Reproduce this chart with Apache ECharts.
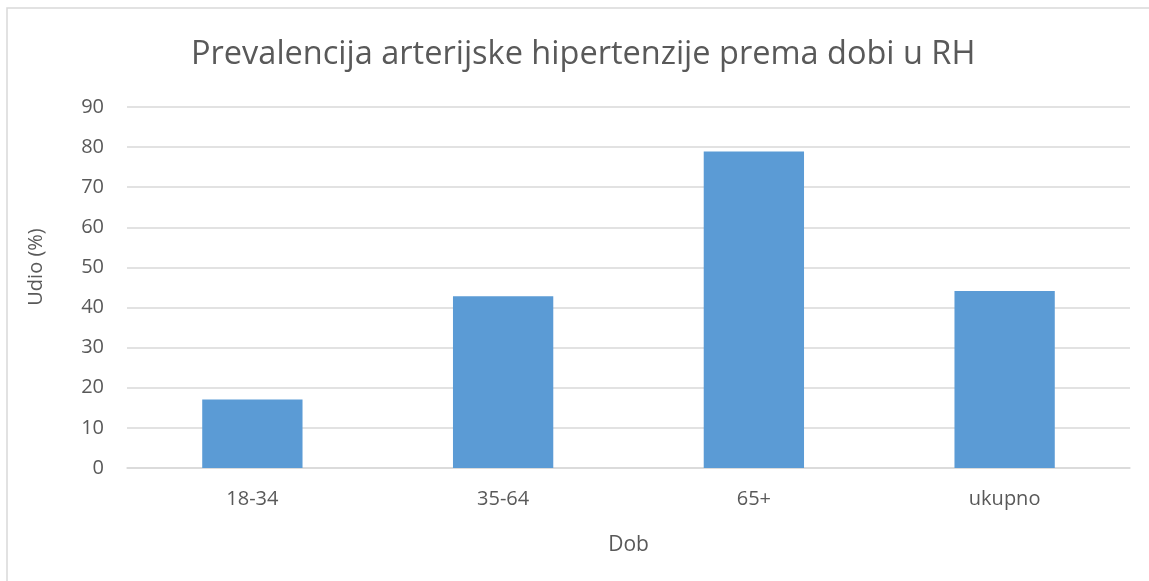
<!DOCTYPE html>
<html>
<head>
<meta charset="utf-8">
<script src="https://cdn.jsdelivr.net/npm/echarts@6/dist/echarts.min.js"></script>
<style>
html,body{margin:0;padding:0;background:#fff;}
#chart{width:1149px;height:581px;}
</style>
</head>
<body>
<div id="chart"></div>
<script>
const categories = ['18-34', '35-64', '65+', 'ukupno'];
const values = [17.1, 42.8, 78.9, 44.1];
const yTicks = { min: 0, max: 90, interval: 10 };
const titleText = 'Prevalencija arterijske hipertenzije prema dobi u RH';
const xName = 'Dob';
const yName = 'Udio (%)';

const chart = echarts.init(document.getElementById('chart'), null, { renderer: 'canvas' });
const font = '"Open Sans", "Noto Sans", sans-serif';
chart.setOption({
  animation: false,
  backgroundColor: '#fff',
  graphic: [{
    type: 'rect',
    shape: { x: 7, y: 8, width: 1160, height: 600 },
    style: { fill: 'none', stroke: '#d9d9d9', lineWidth: 1.5 },
    silent: true
  }, {
    type: 'text',
    x: 36,
    y: 267,
    rotation: Math.PI / 2,
    style: {
      text: yName,
      fontFamily: font,
      fontSize: 20,
      fill: '#595959',
      align: 'center',
      verticalAlign: 'middle'
    },
    silent: true
  }],
  title: {
    text: titleText,
    left: 191,
    top: 38,
    padding: 0,
    textStyle: { fontFamily: font, fontSize: 32.5, fontWeight: 'normal', color: '#595959' }
  },
  grid: { left: 127, right: 19, top: 107, bottom: 113 },
  xAxis: {
    type: 'category',
    data: categories,
    name: xName,
    nameLocation: 'middle',
    nameGap: 67,
    nameTextStyle: { fontFamily: font, fontSize: 21, color: '#595959' },
    axisLine: { lineStyle: { color: '#d9d9d9', width: 1.5 } },
    axisTick: { show: false },
    axisLabel: { fontFamily: font, fontSize: 20, color: '#595959', margin: 21 }
  },
  yAxis: {
    type: 'value',
    min: yTicks.min,
    max: yTicks.max,
    interval: yTicks.interval,
    axisLine: { show: false },
    axisTick: { show: false },
    splitLine: { lineStyle: { color: '#d9d9d9', width: 1.5 } },
    axisLabel: { fontFamily: font, fontSize: 20, color: '#595959', margin: 23 }
  },
  series: [{
    type: 'bar',
    data: values,
    barWidth: '40%',
    itemStyle: { color: '#5b9bd5' }
  }]
});
</script>
</body>
</html>
